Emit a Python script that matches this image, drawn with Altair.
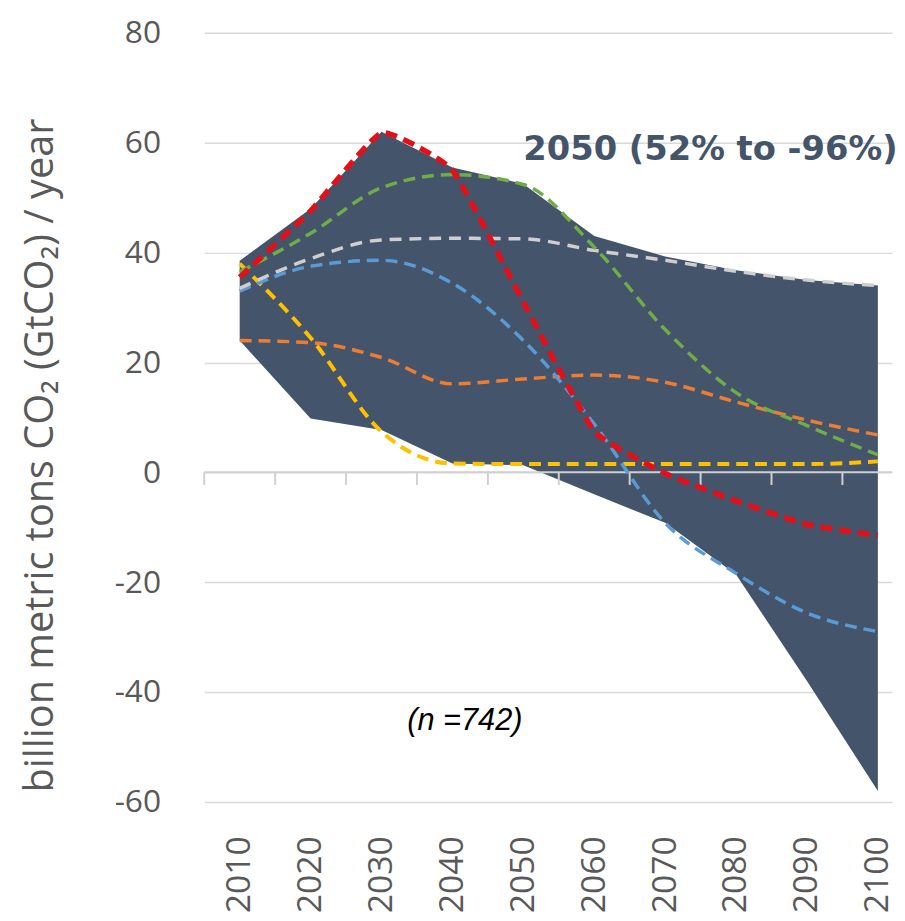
import altair as alt
import pandas as pd

years = [2010, 2020, 2030, 2040, 2050, 2060, 2070, 2080, 2090, 2100]
upper = [38.5, 48.0, 62.0, 55.5, 52.5, 43.0, 39.3, 36.8, 35.0, 34.0]
lower = [24.0, 9.8, 7.7, 1.6, 1.3, -4.0, -9.2, -18.6, -38.0, -58.0]

red = [35.5, 47.6, 61.8, 55.0, 31.0, 7.5, -0.2, -5.2, -9.5, -11.5]
green = [36.5, 43.5, 51.8, 54.2, 52.4, 41.0, 26.0, 14.5, 8.5, 3.2]
gray = [33.5, 38.9, 42.3, 42.6, 42.5, 40.4, 38.6, 36.6, 35.0, 34.0]
blue = [33.0, 37.5, 38.6, 34.4, 24.0, 8.8, -9.2, -18.4, -25.6, -29.0]
orange = [24.0, 23.6, 20.9, 16.1, 17.0, 17.7, 16.4, 12.8, 9.5, 6.8]
yellow = [38.0, 24.5, 7.4, 1.6, 1.5, 1.5, 1.5, 1.5, 1.5, 2.0]

tick_years = [2005, 2015, 2025, 2035, 2045, 2055, 2065, 2075, 2085, 2095]
y_ticks = [-60, -40, -20, 0, 20, 40, 60, 80]

annotation = "2050 (52% to -96%)"
n_label = "(n =742)"
y_title = "billion metric tons CO\u2082 (GtCO\u2082) / year"

FONT = "Open Sans"
AXIS_COLOR = "#595959"

xscale = alt.Scale(domain=[2005, 2102], nice=False, zero=False)
yscale = alt.Scale(domain=[-60, 80], nice=False, zero=False)

band_df = pd.DataFrame({"year": years, "upper": upper, "lower": lower})

x_axis = alt.Axis(
    values=years, format="d", labelAngle=270, labelFontSize=34, labelFont=FONT,
    labelColor=AXIS_COLOR, labelPadding=34, ticks=False, domain=False, grid=False,
    title=None,
)
y_axis = alt.Axis(
    values=y_ticks, labelExpr="toString(datum.value)", labelFontSize=32,
    labelFont=FONT, labelColor=AXIS_COLOR,
    labelPadding=44, ticks=False, domain=False, grid=True, gridColor="#D9D9D9",
    gridWidth=1.5, title=y_title, titleFont=FONT, titleFontSize=40,
    titleFontWeight="normal", titleColor=AXIS_COLOR, titleAngle=270,
    titleX=-153, titleY=426, titleAlign="center", titleBaseline="alphabetic",
)

area = alt.Chart(band_df).mark_area(color="#44546A", opacity=1).encode(
    x=alt.X("year:Q", scale=xscale, axis=x_axis),
    y=alt.Y("upper:Q", scale=yscale, axis=y_axis),
    y2="lower:Q",
)

zero_df = pd.DataFrame({"year": [2005], "x1": [2102]})
zero_line = alt.Chart(zero_df).mark_rule(color="#D0D0D0", strokeWidth=2).encode(
    x=alt.X("year:Q", scale=xscale),
    x2="x1:Q",
    y=alt.datum(0),
)

ticks_df = pd.DataFrame({"year": tick_years})
tick_marks = alt.Chart(ticks_df).mark_rule(color="#D0D0D0", strokeWidth=2).encode(
    x=alt.X("year:Q", scale=xscale),
    y=alt.datum(0),
    y2=alt.datum(-2.3),
)

series = [
    ("orange", orange, "#ED7D31", 3.5, [12, 7], "monotone"),
    ("yellow", yellow, "#FFC000", 4, [12, 7], "monotone"),
    ("blue", blue, "#5B9BD5", 3.5, [12, 7], "monotone"),
    ("gray", gray, "#CFCFCF", 3.5, [12, 8], "monotone"),
    ("green", green, "#70AD47", 3.5, [12, 7], "monotone"),
    ("red", red, "#E3101A", 5.5, [12, 7], "cardinal"),
]

line_layers = []
for name, vals, col, w, dash, interp in series:
    df = pd.DataFrame({"year": years, "upper": vals})
    mark_kwargs = dict(color=col, strokeWidth=w, strokeDash=dash, interpolate=interp)
    if interp == "cardinal":
        mark_kwargs["tension"] = 0.6
    line_layers.append(
        alt.Chart(df).mark_line(**mark_kwargs).encode(
            x=alt.X("year:Q", scale=xscale),
            y=alt.Y("upper:Q", scale=yscale),
        )
    )

ann = alt.Chart(pd.DataFrame({"t": [annotation]})).mark_text(
    font="DejaVu Sans", fontSize=34, fontWeight="bold", color="#44546A",
    align="left", baseline="alphabetic",
).encode(x=alt.value(322), y=alt.value(128), text="t:N")

nlab = alt.Chart(pd.DataFrame({"t": [n_label]})).mark_text(
    font="Liberation Sans", fontSize=31, fontStyle="italic", color="#000000",
    align="center", baseline="alphabetic",
).encode(x=alt.value(263), y=alt.value(703), text="t:N")

chart = alt.layer(
    area, zero_line, tick_marks, *line_layers, ann, nlab
).properties(
    width=694, height=776,
    background="white",
    autosize=alt.AutoSizeParams(type="none"),
    padding={"left": 198, "top": 21, "right": 5, "bottom": 110},
).configure_view(stroke=None).configure_axisX(grid=False)

chart.save("out.html", embed_options={"renderer": "svg", "actions": False})
